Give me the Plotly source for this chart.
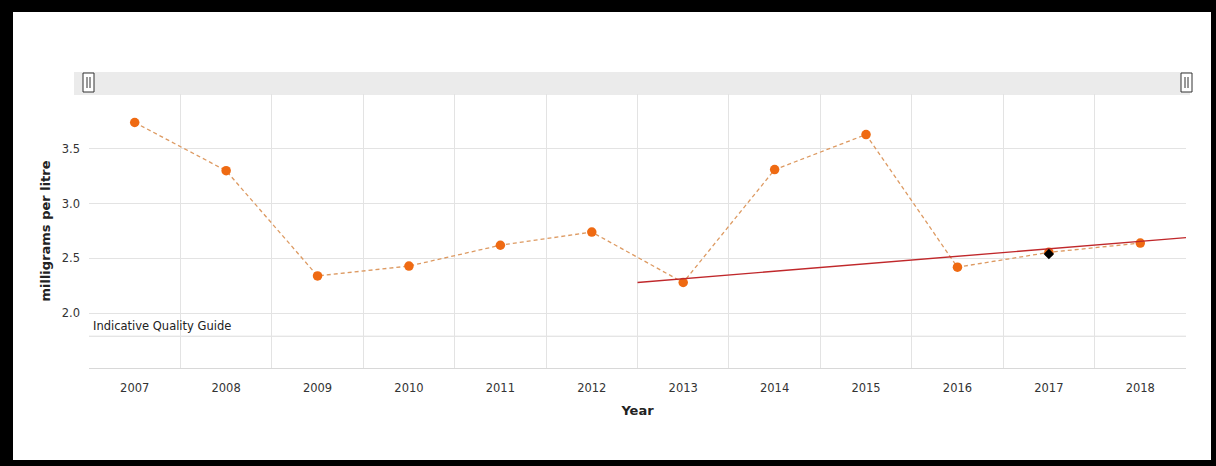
import plotly.graph_objects as go

years = [2007, 2008, 2009, 2010, 2011, 2012, 2013, 2014, 2015, 2016, 2017, 2018]
values = [3.74, 3.30, 2.34, 2.43, 2.62, 2.74, 2.28, 3.31, 3.63, 2.42, 2.555, 2.64]
trend_years = [2012.5, 2018.5]
trend_values = [2.28, 2.69]
marker_year = [2017]
marker_value = [2.54]
guide_value = 1.79
guide_label = "Indicative Quality Guide"
y_ticks = [2.0, 2.5, 3.0, 3.5]

W, H = 1216, 466
L, R, T, B = 89, 1186, 94, 368


def px(x):
    return (x - L) / (R - L)


def py(y):
    return (B - y) / (B - T)


fig = go.Figure()

fig.add_trace(go.Scatter(
    x=years, y=values, mode="lines+markers",
    line=dict(color="#dd9a62", width=1.3, dash="4px,3px"),
    marker=dict(color="#ef6a12", size=9.5),
    showlegend=False,
))
fig.add_trace(go.Scatter(
    x=trend_years, y=trend_values, mode="lines",
    line=dict(color="#c0282b", width=1.4),
    showlegend=False,
))
fig.add_trace(go.Scatter(
    x=marker_year, y=marker_value, mode="markers",
    marker=dict(color="black", size=8, symbol="diamond"),
    showlegend=False,
))

shapes = []
# guide line
shapes.append(dict(type="line", xref="paper", yref="y", x0=0, x1=1,
                   y0=guide_value, y1=guide_value,
                   line=dict(color="#dcdcdc", width=1), layer="below"))
# scroller bar
shapes.append(dict(type="rect", xref="paper", yref="paper",
                   x0=px(74), x1=px(1190), y0=py(95), y1=py(72),
                   fillcolor="#ebebeb", line=dict(width=0), layer="below"))
for hx in (83, 1181):
    shapes.append(dict(type="rect", xref="paper", yref="paper",
                       x0=px(hx), x1=px(hx + 11), y0=py(92), y1=py(73),
                       fillcolor="white", line=dict(color="#333", width=1)))
    for dx in (4, 7):
        shapes.append(dict(type="line", xref="paper", yref="paper",
                           x0=px(hx + dx), x1=px(hx + dx), y0=py(88), y1=py(77),
                           line=dict(color="#333", width=1)))
# black frame
for (x0, x1, y0, y1) in [(0, 13, 0, H), (1211, W, 0, H), (0, W, 0, 12), (0, W, 460, H)]:
    shapes.append(dict(type="rect", xref="paper", yref="paper",
                       x0=px(x0), x1=px(x1), y0=py(y1), y1=py(y0),
                       fillcolor="black", line=dict(width=0)))

fig.update_layout(
    width=W, height=H,
    margin=dict(l=L, r=W - R, t=T, b=H - B),
    paper_bgcolor="white", plot_bgcolor="white",
    font=dict(family="DejaVu Sans", size=11.5, color="#333"),
    shapes=shapes,
    annotations=[
        dict(text=guide_label, xref="paper", yref="y", x=0, y=guide_value,
             xanchor="left", yanchor="bottom", xshift=2, yshift=1,
             showarrow=False, font=dict(size=11.5, color="#222")),
    ],
    xaxis=dict(
        range=[2006.5, 2018.5], tickvals=years, ticktext=[str(y) for y in years],
        showgrid=False, zeroline=False,
        showline=True, linecolor="#d8d8d8", linewidth=1,
        ticks="", ticklabelstandoff=9,
        minor=dict(tick0=2006.5, dtick=1, showgrid=True, gridcolor="#e3e3e3", gridwidth=1),
        title=dict(text="<b>Year</b>", font=dict(size=13, color="#222"), standoff=12),
        fixedrange=True,
    ),
    yaxis=dict(
        range=[1.5, 4.0], tickvals=y_ticks, ticktext=["2.0", "2.5", "3.0", "3.5"],
        showgrid=True, gridcolor="#e3e3e3", zeroline=False,
        ticks="", ticklabelstandoff=8,
        title=dict(text="<b>milligrams per litre</b>", font=dict(size=13, color="#222"), standoff=8),
        fixedrange=True,
    ),
)

fig.write_html("out.html", config={"displayModeBar": False},
               post_script="document.body.style.margin='0';")
